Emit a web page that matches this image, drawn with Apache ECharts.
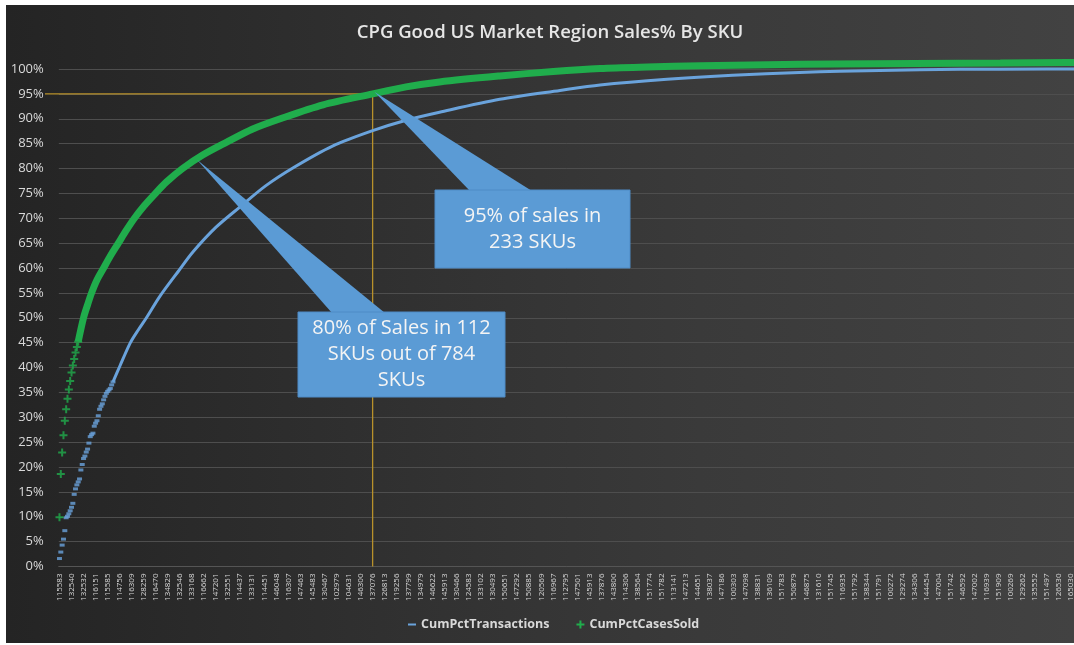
<!DOCTYPE html>
<html><head><meta charset="utf-8">
<script src="https://cdn.jsdelivr.net/npm/echarts@6/dist/echarts.min.js"></script>
<style>
html,body{margin:0;padding:0;background:#fff;}
#bg{position:absolute;left:6px;top:5px;width:1068px;height:638px;background:linear-gradient(to right,#242424 0%,#303030 35%,#3a3a3a 65%,#424242 100%);}
#chart{position:absolute;left:0;top:0;width:1074px;height:645px;}
</style></head><body>
<div id="bg"></div><div id="chart"></div>
<script>
// ---- data ----
const chartTitle = 'CPG Good US Market Region Sales% By SKU';
const totalSkus = 784;
const skuTickLabels = ['115583','132540','132532','116151','115585','114756','116309','128259','116470','134829',
 '132546','133168','116662','147201','132551','114437','133131','114451','146048','116307',
 '147463','145483','130467','102979','104631','146300','137076','126813','119256','137799',
 '134979','146622','145913','130466','124583','133102','130493','150651','147292','150885',
 '120569','116967','112795','147501','145913','137876','143800','114306','138564','151774',
 '151782','113141','147213','144651','138037','147186','100303','147098','138831','136109',
 '151783','150879','146875','131610','151745','116935','151792','138344','151791','100272',
 '129274','134306','144454','147004','151742','146592','147002','116939','151909','100269',
 '129262','135552','151497','126530','165030'];
const tickStep = 9; // one SKU label shown every 9 SKUs

// CumPctTransactions (blue) – SKU rank / cumulative %
const blueEarlyRank = [1,2,3,4,5,6,7,8,9,10,11,12,13,14,15,16,17,18,19,20,21,22,23,24,25,26,27,28,29,30,31,32,33,34,35,36,37,38,39,40,41];
const blueEarlyPct  = [1.6,2.9,4.3,5.5,7.2,9.8,10.1,10.6,11.2,11.9,12.7,14.5,15.6,16.4,17.0,17.6,19.4,20.5,21.7,22.2,23.0,23.6,24.8,26.1,26.5,26.8,28.2,28.8,29.3,30.3,31.6,32.2,32.7,33.5,34.2,34.8,35.2,35.5,35.8,36.5,37.1];
const blueRank = [41,46,54,60,66,76,90,101,118,136,155,176,205,235,260,285,330,375,405,455,504,554,584,644,704,784];
const bluePct  = [37.1,40.2,45.0,47.6,50.0,54.3,59.4,63.3,68.2,72.3,76.5,80.2,84.5,87.6,89.7,91.3,93.9,95.7,96.8,97.95,98.75,99.3,99.55,99.85,99.97,100];

// CumPctCasesSold (green)
const greenEarlyRank = [1,2,3,4,5,6,7,8,9,10,11,12,13,14,15];
const greenEarlyPct  = [9.9,18.6,22.9,26.4,29.3,31.6,33.7,35.6,37.3,39.0,40.4,41.7,43.0,44.1,45.2];
const greenRank = [15,19,22,25,29,34,39,45,51,57,64,71,81,93,108,126,145,166,198,235,260,285,330,370,405,440,480,530,579,640,704,754,784];
const greenPct  = [45.2,50.0,52.6,55.0,57.6,60.0,62.4,65.0,67.6,70.0,72.4,74.5,77.3,80.0,82.7,85.3,87.9,90.0,92.8,95.0,96.4,97.4,98.6,99.5,100.1,100.4,100.65,100.85,101.0,101.1,101.2,101.3,101.3];

// annotations
const cutoffRank = 235, cutoffPct = 95;
const callout95Text = '95% of sales in\n233 SKUs';
const callout80Text = '80% of Sales in 112\nSKUs out of 784\nSKUs';
const callout80Tip = [104, 81.7];

// ---- styles ----
const BLUE = '#6aa3dc', GREEN = '#20ad4c', GOLD = '#b8912a', CALLOUT = '#5b9bd5';
const TXT = '#d9d9d9', FONT = '"Open Sans", "Noto Sans", sans-serif';
const plusPath = 'path://M3,0H5V3H8V5H5V8H3V5H0V3H3Z';
const dashPath = 'path://M0,0L0.01,0L0,0.01Z M0,3H8V5H0Z M8,8L7.99,8L8,7.99Z';
const zip = (a, b) => a.map((v, i) => [v, b[i]]);

const chart = echarts.init(document.getElementById('chart'), null, {renderer: 'canvas'});
chart.setOption({
  backgroundColor: 'transparent',
  animation: false,
  title: {text: chartTitle, left: 545, top: 18, textAlign: 'center',
    textStyle: {color: '#e6e6e6', fontSize: 18.5, fontWeight: 600, fontFamily: FONT}},
  legend: {left: 403, top: 613, itemGap: 27, itemWidth: 8, itemHeight: 8,
    textStyle: {color: TXT, fontSize: 12.5, fontWeight: 'bold', fontFamily: FONT},
    data: [{name: 'CumPctTransactions', icon: dashPath}, {name: 'CumPctCasesSold', icon: plusPath}]},
  grid: {left: 58.8, top: 69, right: -34, bottom: 78.5, outerBoundsMode: 'none', containLabel: false},
  xAxis: {type: 'value', min: 0.5, max: totalSkus + 0.5,
    splitLine: {show: false}, axisTick: {show: false},
    axisLine: {show: true, lineStyle: {color: '#555555'}},
    axisLabel: {rotate: 90, fontSize: 8, color: TXT, margin: 7, fontFamily: FONT,
      customValues: skuTickLabels.map((_, k) => 1 + k * tickStep),
      formatter: v => { const k = Math.round((v - 1) / tickStep); return skuTickLabels[k] || ''; }}},
  yAxis: {type: 'value', min: 0, max: 100, interval: 5,
    axisLine: {show: false}, axisTick: {show: false},
    splitLine: {lineStyle: {color: '#4e4e4e', width: 1}},
    axisLabel: {formatter: '{value}%', color: TXT, fontSize: 13, margin: 15, fontFamily: FONT}},
  series: [
    {name: 'CumPctTransactions', type: 'line', data: zip(blueRank, bluePct), showSymbol: false,
      smooth: 0.3, clip: false, z: 3, lineStyle: {color: BLUE, width: 3}, itemStyle: {color: BLUE}},
    {name: 'CumPctTransactions', type: 'scatter', data: zip(blueEarlyRank, blueEarlyPct), clip: false, z: 3,
      symbol: 'rect', symbolSize: [5, 3], itemStyle: {color: BLUE}},
    {name: 'CumPctCasesSold', type: 'line', data: zip(greenRank, greenPct), showSymbol: false,
      smooth: 0.3, clip: false, z: 4, lineStyle: {color: GREEN, width: 7}, itemStyle: {color: GREEN}},
    {name: 'CumPctCasesSold', type: 'scatter', data: zip(greenEarlyRank, greenEarlyPct), clip: false, z: 4,
      symbol: plusPath, symbolSize: 8, itemStyle: {color: GREEN}}
  ]
});

// ---- annotations positioned from data coordinates ----
const px = d => chart.convertToPixel({gridIndex: 0}, d);
const pCut = px([cutoffRank, cutoffPct]);
const pZero = px([cutoffRank, 0]);
const tip95 = px([cutoffRank + 1.5, cutoffPct]);
const tip80 = px(callout80Tip);
const box95 = {x: 435, y: 190, width: 195, height: 78};
const box80 = {x: 298, y: 312, width: 207, height: 85};
const txtStyle = (t, cx, cy) => ({type: 'text', z: 60, x: cx, y: cy,
  style: {text: t, fill: '#f4f4f4', fontSize: 20, fontFamily: FONT, align: 'center', verticalAlign: 'middle', lineHeight: 26}});
chart.setOption({graphic: [
  {type: 'line', z: 1, shape: {x1: 45, y1: pCut[1], x2: pCut[0], y2: pCut[1]}, style: {stroke: GOLD, lineWidth: 1.3}},
  {type: 'line', z: 1, shape: {x1: pCut[0], y1: pCut[1], x2: pCut[0], y2: pZero[1]}, style: {stroke: GOLD, lineWidth: 1.3}},
  {type: 'polygon', z: 50, shape: {points: [[tip95[0], tip95[1] - 2], [box95.x + 35, box95.y + 1], [box95.x + 97, box95.y + 1]]}, style: {fill: CALLOUT}},
  {type: 'rect', z: 50, shape: box95, style: {fill: CALLOUT, stroke: '#4f8bc6', lineWidth: 1}},
  txtStyle(callout95Text, box95.x + box95.width / 2, box95.y + box95.height / 2),
  {type: 'polygon', z: 50, shape: {points: [[tip80[0], tip80[1]], [box80.x + 34, box80.y + 1], [box80.x + 87, box80.y + 1]]}, style: {fill: CALLOUT}},
  {type: 'rect', z: 50, shape: box80, style: {fill: CALLOUT, stroke: '#4f8bc6', lineWidth: 1}},
  txtStyle(callout80Text, box80.x + box80.width / 2, box80.y + box80.height / 2)
]});
</script>
</body></html>
